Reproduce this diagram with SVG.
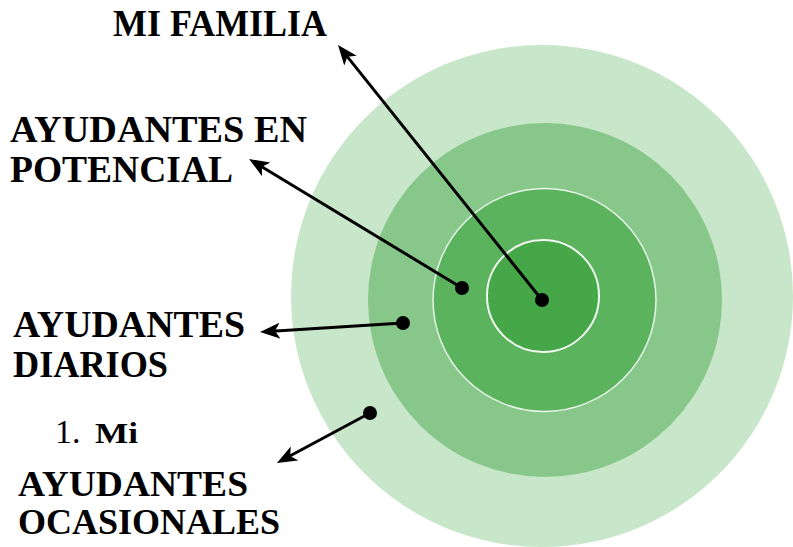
<svg xmlns="http://www.w3.org/2000/svg" width="793" height="547" viewBox="0 0 793 547">
<style>
.lbl{font-family:"Liberation Serif","Times New Roman",serif;font-weight:bold;font-size:38px;fill:#000}
.sm{font-size:36px}
.num{font-family:"Liberation Serif","Times New Roman",serif;font-size:34px;fill:#000}
.conn{stroke:#000;stroke-width:3;fill:none;marker-end:url(#ah)}
.dot{fill:#000}
</style>
<defs>
<marker id="ah" viewBox="0 0 20 16" refX="8" refY="8" markerWidth="20" markerHeight="16" markerUnits="userSpaceOnUse" orient="auto">
<path d="M0,0 L20,8 L0,16 L5,8 z" fill="#000"/>
</marker>
</defs>
<rect width="793" height="547" fill="#fff"/>
<g id="rings">
<circle id="ring-outer" cx="542" cy="296" r="251" fill="#c8e6c9"/>
<circle id="ring-2" cx="545" cy="300" r="177" fill="#88c78a"/>
<circle id="ring-3" cx="544.5" cy="300" r="111.5" fill="#5bb35e" stroke="#e8f5e9" stroke-width="1.5"/>
<circle id="ring-inner" cx="543" cy="296" r="56" fill="#45a748" stroke="#f1f8f1" stroke-width="2"/>
</g>
<g id="connectors">
<line class="conn" x1="542" y1="300" x2="345.5" y2="54.4"/>
<line class="conn" x1="462" y1="288" x2="259.3" y2="165.2"/>
<line class="conn" x1="403" y1="323" x2="272" y2="331.2"/>
<line class="conn" x1="370" y1="413" x2="287.5" y2="457.3"/>
<circle class="dot" cx="542" cy="300" r="7"/>
<circle class="dot" cx="462" cy="288" r="7"/>
<circle class="dot" cx="403" cy="323" r="7"/>
<circle class="dot" cx="370" cy="413" r="7"/>
</g>
<g id="mi-familia">
<text class="lbl" x="113" y="36" textLength="214" lengthAdjust="spacingAndGlyphs">MI FAMILIA</text>
</g>
<g id="ayudantes-potencial">
<text class="lbl" x="10" y="142" textLength="297" lengthAdjust="spacingAndGlyphs">AYUDANTES EN</text>
<text class="lbl" x="10" y="182" textLength="223" lengthAdjust="spacingAndGlyphs">POTENCIAL</text>
</g>
<g id="ayudantes-diarios">
<text class="lbl" x="13" y="337" textLength="232" lengthAdjust="spacingAndGlyphs">AYUDANTES</text>
<text class="lbl" x="13" y="377" textLength="155" lengthAdjust="spacingAndGlyphs">DIARIOS</text>
</g>
<g id="mi-item">
<text class="num" x="55" y="443">1.</text>
<text class="lbl" x="95" y="443" style="font-size:29px" textLength="43" lengthAdjust="spacingAndGlyphs">Mi</text>
</g>
<g id="ayudantes-ocasionales">
<text class="lbl sm" x="18" y="496" textLength="230" lengthAdjust="spacingAndGlyphs">AYUDANTES</text>
<text class="lbl sm" x="18" y="534" textLength="262" lengthAdjust="spacingAndGlyphs">OCASIONALES</text>
</g>
</svg>
